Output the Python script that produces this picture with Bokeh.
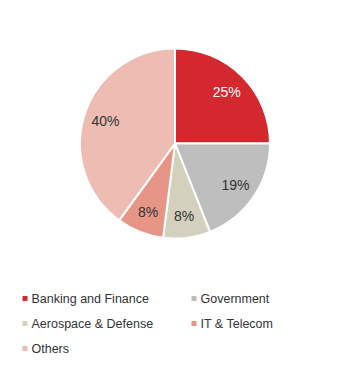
import numpy as np
from bokeh.plotting import figure
from bokeh.models import Range1d, ColumnDataSource
from bokeh.core.properties import value
from bokeh.embed import file_html
from bokeh.resources import INLINE

categories = ["Banking and Finance", "Government", "Aerospace & Defense", "IT & Telecom", "Others"]
shares = [25, 19, 8, 8, 40]
colors = ["#D2282E", "#BEBEBE", "#D3D1BE", "#E69586", "#EDBDB4"]
label_colors = ["#FFFFFF", "#333333", "#333333", "#333333", "#333333"]

W, H = 347, 362
p = figure(width=W, height=H, x_range=Range1d(0, W), y_range=Range1d(0, H),
           output_backend="svg", toolbar_location=None, min_border=0)
p.axis.visible = False
p.grid.visible = False
p.outline_line_color = None
p.background_fill_color = "white"

cx, cy, r = 174.5, H - 143.0, 95.0
vals = np.array(shares, dtype=float)
frac = vals / vals.sum()
cum = np.concatenate([[0], np.cumsum(frac)])
start = np.pi / 2 - cum[:-1] * 2 * np.pi
end = np.pi / 2 - cum[1:] * 2 * np.pi
mid = (start + end) / 2

src = ColumnDataSource(dict(start=start, end=end, color=colors))
p.wedge(x=cx, y=cy, radius=r, start_angle="start", end_angle="end", direction="clock",
        fill_color="color", line_color="white", line_width=2, source=src)

lr = 0.77 * r
lsrc = ColumnDataSource(dict(x=cx + lr * np.cos(mid), y=cy + lr * np.sin(mid),
                             t=[f"{s}%" for s in shares], c=label_colors))
p.text(x="x", y="y", text="t", text_color="c", source=lsrc, text_align="center",
       text_baseline="middle", text_font=value("Liberation Sans"), text_font_size="14px")

# legend
ncol = 2
col_x = [24.5, 193.5]
row_y0, row_dy = H - 298, 25
lx = [col_x[i % ncol] for i in range(len(categories))]
ly = [row_y0 - (i // ncol) * row_dy for i in range(len(categories))]
legsrc = ColumnDataSource(dict(x=lx, y=ly, tx=[x + 6.5 for x in lx], name=categories, color=colors))
p.scatter(x="x", y="y", marker="square", size=5, fill_color="color", line_color=None, source=legsrc)
p.text(x="tx", y="y", text="name", source=legsrc, text_align="left", text_baseline="middle",
       text_color="#333333", text_font=value("Liberation Sans"), text_font_size="12.5px")

open("out.html", "w").write(file_html(p, INLINE))
